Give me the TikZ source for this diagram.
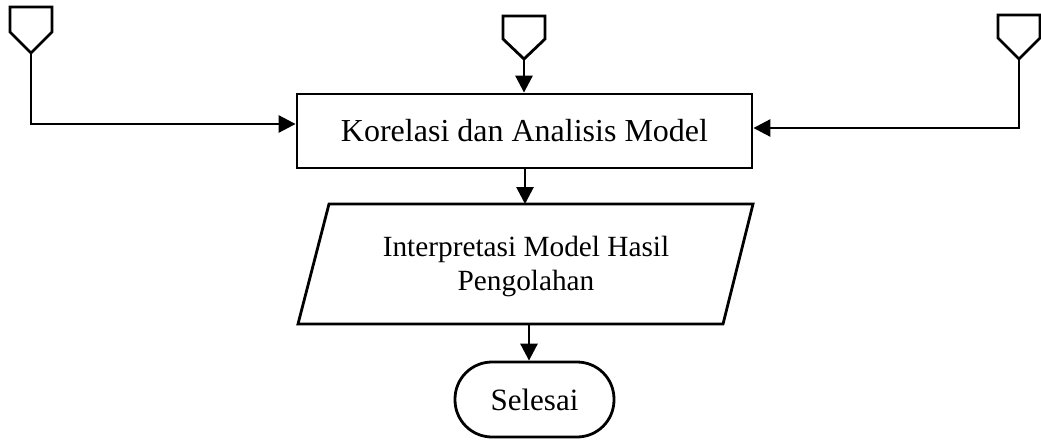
\documentclass[tikz,border=0pt]{standalone}
\usepackage{fontspec}
\setmainfont{Liberation Serif}
\usetikzlibrary{arrows.meta}
\begin{document}
\begin{tikzpicture}[x=1pt,y=-1pt,
  every path/.style={line width=2.8pt, line join=miter},
  arr/.style={-{Triangle[width=17pt,length=17pt]}, line width=2.8pt},
  txt/.style={inner sep=0pt, align=center}]
\useasboundingbox (0,0) rectangle (1041,439);
% off-page connectors
\coordinate (tl) at (31,53);
\coordinate (tm) at (524,59);
\coordinate (tr) at (1019,59);
\draw (10,7) -- (52,7) -- (52,32) -- (tl) -- (10,32) -- cycle;
\draw (503,16) -- (545,16) -- (545,39) -- (tm) -- (503,39) -- cycle;
\draw (998,15) -- (1040,15) -- (1040,38) -- (tr) -- (998,38) -- cycle;
% main box
\node[draw, line width=2.8pt, minimum width=455pt, minimum height=74pt, inner sep=0pt,
      font=\fontsize{32}{36}\selectfont] (box) at (524.5,131) {Korelasi dan Analisis Model};
% parallelogram
\coordinate (ptop) at (525,204);
\coordinate (pbot) at (529,324);
\draw (329,204) -- (753,204) -- (723,324) -- (298,324) -- cycle;
\node[txt, font=\fontsize{29.3}{34}\selectfont] (para) at (526,266) {Interpretasi Model Hasil\\Pengolahan};
% terminator
\node[draw, line width=2.8pt, rounded corners=37pt, minimum width=159pt, minimum height=75pt, inner sep=0pt,
      font=\fontsize{31}{36}\selectfont] (end) at (534.5,399.5) {Selesai};
% connectors
\coordinate (lc) at (31,124);
\coordinate (rc) at (1019,128);
\draw[arr] (tl) -- (lc) -- (box.west |- lc);
\draw[arr] (tr) -- (rc) -- (box.east |- rc);
\draw[arr] (tm) -- (box.north -| tm);
\draw[arr] (box.south -| ptop) -- (ptop);
\draw[arr] (pbot) -- (end.north -| pbot);
\end{tikzpicture}
\end{document}
